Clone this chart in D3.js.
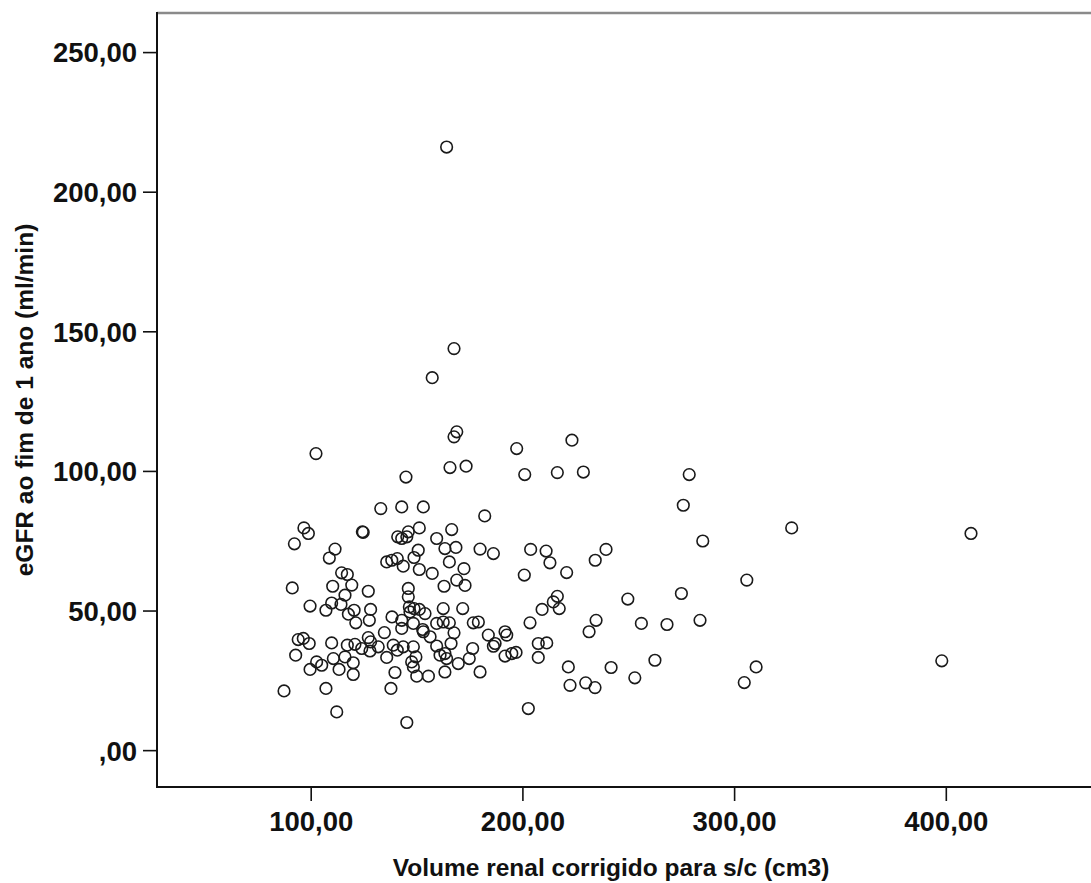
<!DOCTYPE html>
<meta charset="utf-8">
<title>Scatter Plot</title>
<script src="https://d3js.org/d3.v7.min.js"></script>
<style>
    body { margin: 0; background: #fff; }
    text { font-family: "Liberation Sans", Arial, sans-serif; }
</style>
<body>
    <div id="my_dataviz"></div>
    <script>

        // data: renal volume (x) and eGFR at one year (y)
        var volume = [
            164.2, 167.7, 157.4, 102.5, 145.0,
            169.0, 167.7, 197.3, 223.4, 165.8, 173.4, 201.1, 216.5, 228.8, 278.8, 276.0, 182.2, 166.6, 285.2,
            163.4, 168.6, 180.0, 186.3, 203.9, 211.2, 213.0, 239.5, 234.4, 165.5, 172.4, 200.9, 220.9, 169.0,
            172.9, 163.0, 216.5, 214.6, 217.4, 209.3, 249.8, 275.1, 162.6, 171.8, 203.6, 234.8, 231.5, 256.2,
            268.3, 283.9, 162.6, 165.5, 176.8, 179.2, 167.7, 183.9, 187.1, 186.3, 191.8, 192.6, 166.3, 176.5,
            174.9, 163.4, 164.2, 169.7, 163.4, 180.0, 191.8, 195.0, 197.0, 207.5, 211.5, 207.5, 221.7, 241.9,
            262.6, 222.5, 229.9, 234.3, 253.1, 202.8,
            327.2, 411.9, 306.0, 310.4, 304.8, 398.1,
            133.1, 143.0, 153.2, 96.8, 98.9, 124.4, 124.8, 92.3, 111.5, 108.8, 141.1, 143.0, 145.4, 146.1,
            151.3, 150.8, 159.5, 135.9, 138.3, 140.9, 143.7, 148.8, 151.3, 157.4, 114.6, 117.3, 119.4, 110.4,
            91.3, 127.2, 116.2, 99.7, 107.2, 109.9, 114.3, 120.5, 117.8, 121.3, 128.3, 127.7, 138.4, 146.1,
            146.1, 146.6, 146.9, 148.8, 151.3, 154.0, 143.0, 148.5, 152.9, 143.0, 159.5, 134.8, 94.1, 96.5,
            99.3, 109.9, 117.3, 120.9, 124.1, 127.2, 128.3, 128.0, 131.9, 139.0, 140.9, 143.7, 148.5, 149.7,
            153.2, 156.4, 159.5, 161.1, 92.9, 102.8, 105.2, 99.7, 110.7, 116.2, 120.1, 113.4, 120.1, 135.9,
            147.7, 148.5, 150.1, 155.6, 139.8, 87.4, 107.2, 137.9, 112.3, 145.4
        ];
        var egfr = [
            216.0, 143.8, 133.4, 106.2, 97.8,
            114.0, 112.2, 108.0, 111.0, 101.2, 101.7, 98.7, 99.4, 99.6, 98.7, 87.7, 83.9, 79.0, 74.9,
            72.2, 72.6, 72.0, 70.4, 71.9, 71.3, 67.1, 71.9, 68.0, 67.4, 65.0, 62.7, 63.6, 60.9,
            59.0, 58.7, 55.1, 53.1, 50.7, 50.4, 54.1, 56.1, 50.7, 50.7, 45.6, 46.5, 42.4, 45.4,
            45.0, 46.5, 45.9, 45.6, 45.6, 45.9, 42.0, 41.2, 38.2, 37.2, 42.4, 41.2, 38.2, 36.4,
            32.8, 34.6, 32.8, 31.0, 28.0, 28.0, 33.7, 34.6, 35.0, 38.2, 38.4, 33.2, 29.8, 29.6,
            32.2, 23.2, 24.1, 22.4, 25.9, 14.9,
            79.6, 77.6, 60.9, 29.8, 24.2, 32.0,
            86.5, 87.1, 87.1, 79.6, 77.6, 78.2, 78.0, 73.9, 72.0, 68.8, 76.4, 75.8, 76.4, 78.2,
            79.6, 71.6, 75.8, 67.4, 68.0, 68.6, 65.9, 69.0, 64.7, 63.3, 63.5, 62.9, 59.1, 58.7,
            58.1, 56.9, 55.5, 51.6, 50.1, 52.7, 52.2, 50.1, 48.7, 45.6, 50.4, 46.5, 47.7, 57.9,
            54.9, 51.3, 49.5, 50.7, 50.4, 48.9, 46.5, 45.4, 43.2, 43.6, 45.4, 42.1, 39.6, 40.0,
            38.2, 38.4, 37.6, 37.9, 36.4, 40.3, 38.8, 35.5, 37.0, 37.6, 35.8, 37.0, 37.0, 33.4,
            42.4, 40.6, 37.3, 34.0, 34.0, 31.6, 30.4, 28.9, 32.8, 33.4, 31.3, 28.9, 27.1, 33.2,
            31.6, 29.8, 26.5, 26.5, 27.8, 21.2, 22.1, 22.1, 13.7, 9.9
        ];
        var xTicks = [100, 200, 300, 400];
        var yTicks = [0, 50, 100, 150, 200, 250];
        var xTitle = "Volume renal corrigido para s/c (cm3)";
        var yTitle = "eGFR ao fim de 1 ano (ml/min)";

        var points = volume.map(function (v, i) { return { x: v, y: egfr[i] }; });

        // frame of the plot area (right side runs past the window)
        var W = 1091, H = 883;
        var plotLeft = 157, plotTop = 13, plotBottom = 787, plotRight = 1094;

        var svg = d3.select("#my_dataviz")
            .append("svg")
            .attr("width", W)
            .attr("height", H);

        var x = d3.scaleLinear()
            .domain([27.4, 470])
            .range([plotLeft, plotRight]);

        var y = d3.scaleLinear()
            .domain([-13.2, 264])
            .range([plotBottom, plotTop]);

        var fmt = function (d) { return d === 0 ? ",00" : d + ",00"; };

        // X axis
        var xAxis = svg.append("g")
            .attr("transform", "translate(0," + plotBottom + ")")
            .call(d3.axisBottom(x).tickValues(xTicks).tickFormat(fmt).tickSize(14).tickSizeOuter(0).tickPadding(10));

        // Y axis
        var yAxis = svg.append("g")
            .attr("transform", "translate(" + plotLeft + ",0)")
            .call(d3.axisLeft(y).tickValues(yTicks).tickFormat(fmt).tickSize(14).tickSizeOuter(0).tickPadding(6));

        [xAxis, yAxis].forEach(function (g) {
            g.select(".domain").remove();
            g.selectAll(".tick line").attr("stroke", "#111").attr("stroke-width", 1.6);
            g.selectAll(".tick text")
                .attr("fill", "#111")
                .style("font-size", "27.5px")
                .style("font-weight", "bold");
        });
        xAxis.selectAll(".tick text").attr("dy", "0.71em");
        yAxis.selectAll(".tick text").attr("dy", "0.36em");

        // frame lines
        svg.append("line")
            .attr("x1", plotLeft).attr("x2", W)
            .attr("y1", plotTop).attr("y2", plotTop)
            .attr("stroke", "#8a8a8a").attr("stroke-width", 2.5);
        svg.append("line")
            .attr("x1", plotLeft).attr("x2", plotLeft)
            .attr("y1", plotTop - 1).attr("y2", plotBottom + 1)
            .attr("stroke", "#111").attr("stroke-width", 2);
        svg.append("line")
            .attr("x1", plotLeft - 1).attr("x2", W)
            .attr("y1", plotBottom).attr("y2", plotBottom)
            .attr("stroke", "#111").attr("stroke-width", 2);

        // points
        svg.append("g")
            .selectAll("circle")
            .data(points)
            .enter()
            .append("circle")
            .attr("cx", function (d) { return x(d.x); })
            .attr("cy", function (d) { return y(d.y); })
            .attr("r", 5.8)
            .attr("fill", "none")
            .attr("stroke", "#1a1a1a")
            .attr("stroke-width", 1.6);

        // axis titles
        svg.append("text")
            .attr("x", 611)
            .attr("y", 876)
            .attr("text-anchor", "middle")
            .style("font-size", "24.5px")
            .style("font-weight", "bold")
            .attr("fill", "#111")
            .text(xTitle);

        svg.append("text")
            .attr("transform", "translate(33," + ((plotTop + plotBottom) / 2) + ") rotate(-90)")
            .attr("text-anchor", "middle")
            .style("font-size", "24.5px")
            .style("font-weight", "bold")
            .attr("fill", "#111")
            .text(yTitle);

    </script>
</body>
